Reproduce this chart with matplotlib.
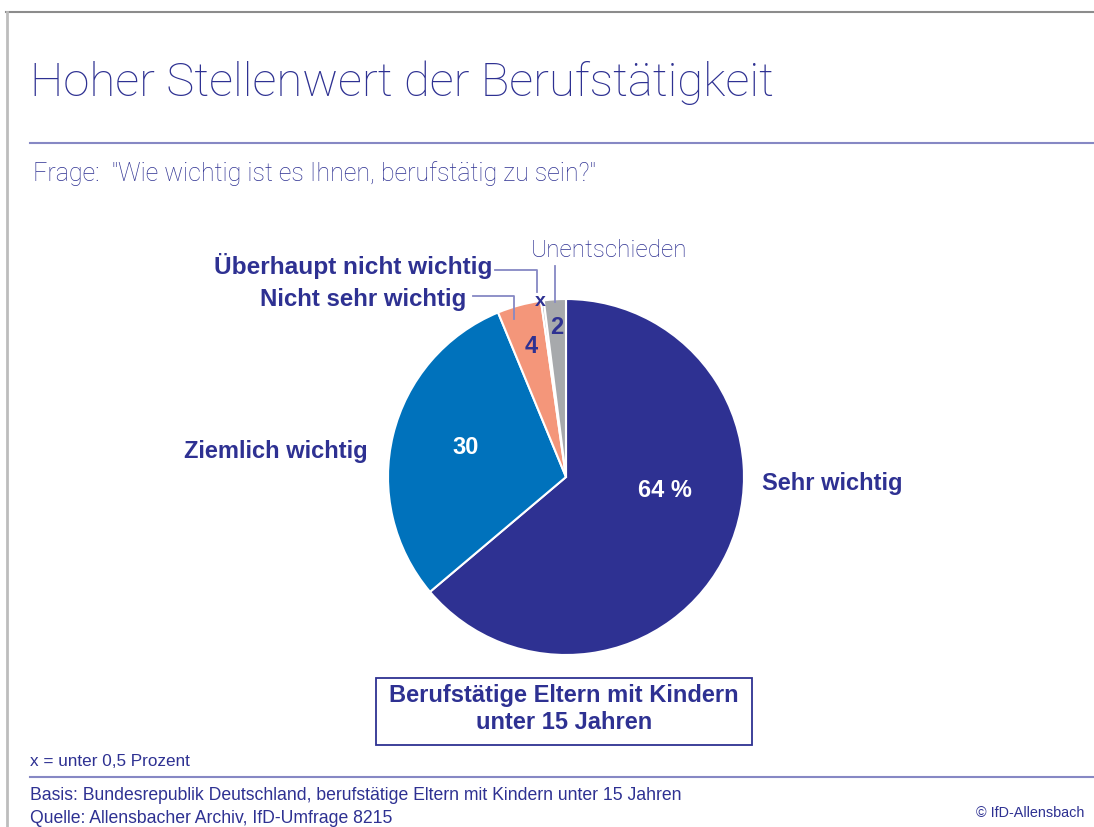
import matplotlib
matplotlib.use("Agg")
import matplotlib.pyplot as plt
from matplotlib.patches import Rectangle

# ---- data ----
categories = ["Sehr wichtig", "Ziemlich wichtig", "Nicht sehr wichtig",
              "Überhaupt nicht wichtig", "Unentschieden"]
values = [64, 30, 4, 0.25, 2]
value_labels = ["64 %", "30", "4", "x", "2"]
colors = ["#2E3192", "#0072BC", "#F4967A", "#A7A9AC", "#A7A9AC"]

title = "Hoher Stellenwert der Berufstätigkeit"
question = 'Frage:  "Wie wichtig ist es Ihnen, berufstätig zu sein?"'
group_label = "Berufstätige Eltern mit Kindern\nunter 15 Jahren"
note = "x = unter 0,5 Prozent"
basis = "Basis: Bundesrepublik Deutschland, berufstätige Eltern mit Kindern unter 15 Jahren"
source = "Quelle: Allensbacher Archiv, IfD-Umfrage 8215"
copyright_txt = "© IfD-Allensbach"

DARK = "#2E3192"
LINE = "#8688C4"
W, H = 1094, 828
FONT = "Liberation Sans"
LIGHT = "Roboto"

fig = plt.figure(figsize=(W / 100, H / 100), dpi=100)

# pie axes
cx, cy, r = 566, 478, 178
pax = fig.add_axes([(cx - r) / W, (H - cy - r) / H, 2 * r / W, 2 * r / H])
wedges, _ = pax.pie(values, colors=colors, startangle=90, counterclock=False,
                    radius=1, wedgeprops=dict(edgecolor="white", linewidth=1.5))
pax.set_xlim(-1, 1)
pax.set_ylim(-1, 1)
pax.set_aspect("equal")
pax.axis("off")

# overlay axes in pixel coordinates (drawn above the pie)
ov = fig.add_axes([0, 0, 1, 1])
ov.set_xlim(0, W)
ov.set_ylim(H, 0)
ov.axis("off")
ov.set_zorder(5)

# frame lines
ov.plot([6, W], [13, 13], color="#8C8C8C", lw=1.5)
ov.plot([6.5, 6.5], [13, H], color="#BDBDBD", lw=2)

# title and rules
ov.text(30, 96, title, fontsize=34, color=DARK, family=LIGHT, fontweight="light",
        va="baseline", ha="left")
ov.plot([30, W], [144, 144], color=LINE, lw=1.5)
ov.text(33, 181, question, fontsize=18, color=DARK, family=LIGHT, fontweight="light",
        va="baseline", ha="left")

# value labels
bold = dict(family=FONT, fontweight="bold")
ov.text(665, 491, value_labels[0], fontsize=17, color="white", ha="center", va="center", **bold)
ov.text(466, 448, value_labels[1], fontsize=17, color="white", ha="center", va="center", **bold)
ov.text(531, 347, value_labels[2], fontsize=17, color=DARK, ha="center", va="center", **bold)
ov.text(540, 302, value_labels[3], fontsize=14, color=DARK, ha="center", va="center", **bold)
ov.text(557, 328, value_labels[4], fontsize=17, color=DARK, ha="center", va="center", **bold)

# category labels
ov.text(762, 484, categories[0], fontsize=17, color=DARK, ha="left", va="center", **bold)
ov.text(368, 452, categories[1], fontsize=17, color=DARK, ha="right", va="center", **bold)
ov.text(466, 300, categories[2], fontsize=17.3, color=DARK, ha="right", va="center", **bold)
ov.text(492, 266, categories[3], fontsize=17.6, color=DARK, ha="right", va="center", **bold)
ov.text(531, 251, categories[4], fontsize=17.5, color=DARK, ha="left", va="center",
        family=LIGHT, fontweight="light")

# leader lines
ov.plot([495, 537, 537], [271, 271, 293], color=LINE, lw=1.3)
ov.plot([473, 514, 514], [297, 297, 320], color=LINE, lw=1.3)
ov.plot([555, 555], [267, 303], color=LINE, lw=1.3)

# group box
ov.add_patch(Rectangle((376, 679), 376, 67, fill=False, edgecolor=DARK, lw=1.3))
ov.text(564, 709, group_label, fontsize=17, color=DARK, ha="center", va="center",
        linespacing=1.2, **bold)

# footer
ov.text(30, 766, note, fontsize=12.3, color=DARK, family=FONT, va="baseline")
ov.plot([30, W], [778, 778], color=LINE, lw=1.5)
ov.text(30, 800, basis, fontsize=12.7, color=DARK, family=FONT, va="baseline")
ov.text(30, 823, source, fontsize=12.7, color=DARK, family=FONT, va="baseline")
ov.text(1084, 817, copyright_txt, fontsize=10.4, color=DARK, family=FONT, va="baseline", ha="right")

fig.savefig("out.png", dpi=100)
